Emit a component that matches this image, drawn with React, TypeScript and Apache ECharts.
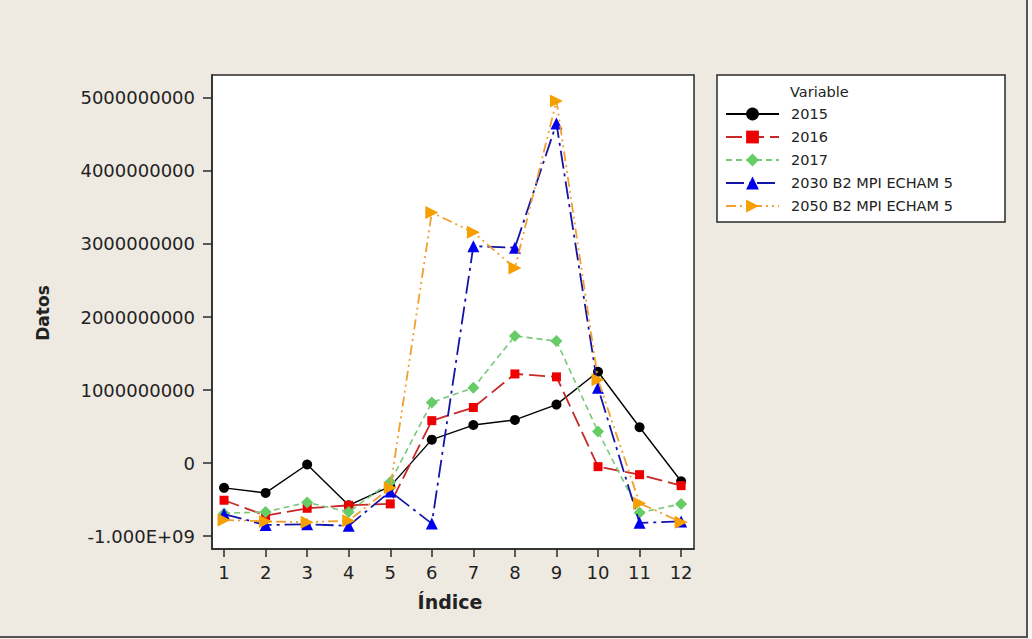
import React, { useEffect, useRef } from "react";
import * as echarts from "echarts";

const indices = [1, 2, 3, 4, 5, 6, 7, 8, 9, 10, 11, 12];
const seriesNames = ["2015", "2016", "2017", "2030 B2 MPI ECHAM 5", "2050 B2 MPI ECHAM 5"];
const s2015 = [-0.34e9, -0.41e9, -0.02e9, -0.58e9, -0.32e9, 0.32e9, 0.52e9, 0.59e9, 0.8e9, 1.25e9, 0.49e9, -0.25e9];
const s2016 = [-0.51e9, -0.72e9, -0.62e9, -0.58e9, -0.56e9, 0.58e9, 0.76e9, 1.22e9, 1.18e9, -0.05e9, -0.16e9, -0.31e9];
const s2017 = [-0.69e9, -0.67e9, -0.54e9, -0.67e9, -0.26e9, 0.83e9, 1.03e9, 1.74e9, 1.67e9, 0.43e9, -0.68e9, -0.56e9];
const s2030 = [-0.7e9, -0.85e9, -0.84e9, -0.86e9, -0.39e9, -0.83e9, 2.97e9, 2.95e9, 4.65e9, 1.03e9, -0.82e9, -0.8e9];
const s2050 = [-0.78e9, -0.8e9, -0.81e9, -0.79e9, -0.34e9, 3.43e9, 3.16e9, 2.67e9, 4.96e9, 1.14e9, -0.55e9, -0.81e9];
const yTicks = [-1e9, 0, 1e9, 2e9, 3e9, 4e9, 5e9];
const legendTitle = "Variable";
const xTitle = "Índice";
const yTitle = "Datos";

const FONT = '"DejaVu Sans", Verdana, sans-serif';

function pairs(vals: number[]) {
  return indices.map((x, i) => [x, vals[i]]);
}

export default function App() {
  const ref = useRef<HTMLDivElement>(null);
  useEffect(() => {
    document.body.style.margin = "0";
    const chart = echarts.init(ref.current!, null, { renderer: "svg" });
    const styles = [
      { symbol: "circle", symbolSize: 10, color: "#000000", line: "#000000", type: "solid", width: 1.4, rot: 0 },
      { symbol: "rect", symbolSize: 9, color: "#ee0000", line: "#c82828", type: [16, 6], width: 1.8, rot: 0 },
      { symbol: "diamond", symbolSize: 12, color: "#66cc66", line: "#77c877", type: [6, 4], width: 1.6, rot: 0 },
      { symbol: "triangle", symbolSize: 12, color: "#0000ee", line: "#1414a8", type: [18, 5, 3, 5], width: 1.8, rot: 0 },
      { symbol: "triangle", symbolSize: 13, color: "#f5a000", line: "#f0a030", type: [10, 4, 2, 4, 2, 4], width: 1.8, rot: -90 },
    ];
    const data = [s2015, s2016, s2017, s2030, s2050];
    chart.setOption({
      animation: false,
      backgroundColor: "#eeeae2",
      textStyle: { fontFamily: FONT },
      grid: {
        left: 212,
        top: 75,
        right: 338,
        bottom: 90,
        show: true,
        backgroundColor: "#ffffff",
        borderColor: "#2a2a2a",
        borderWidth: 1.5,
      },
      xAxis: {
        type: "value",
        min: 0.71,
        max: 12.31,
        splitLine: { show: false },
        axisLine: { show: true, onZero: false, lineStyle: { color: "#2a2a2a", width: 1.5 } },
        axisTick: { show: true, length: 8, customValues: indices, lineStyle: { color: "#2a2a2a", width: 1.5 } },
        axisLabel: { customValues: indices, fontSize: 18, color: "#222", margin: 14, fontFamily: FONT },
      },
      yAxis: {
        type: "value",
        min: -1.178e9,
        max: 5.315e9,
        splitLine: { show: false },
        axisLine: { show: true, onZero: false, lineStyle: { color: "#2a2a2a", width: 1.5 } },
        axisTick: { show: true, length: 9, customValues: yTicks, lineStyle: { color: "#2a2a2a", width: 1.5 } },
        axisLabel: {
          customValues: yTicks,
          fontSize: 18,
          color: "#222",
          margin: 17,
          fontFamily: FONT,
          formatter: (v: number) => (v === -1e9 ? "-1.000E+09" : String(Math.round(v))),
        },
      },
      legend: {
        show: true,
        orient: "vertical",
        left: 725,
        top: 106,
        padding: 0,
        itemWidth: 53,
        itemHeight: 16,
        itemGap: 7,
        align: "left",
        textStyle: { fontSize: 14.5, color: "#222", fontFamily: FONT, lineHeight: 16, padding: [0, 0, 0, 7] },
        data: seriesNames,
      },
      graphic: [
        {
          type: "rect",
          z: -1,
          shape: { x: 717, y: 75, width: 288, height: 147 },
          style: { fill: "#ffffff", stroke: "#2a2a2a", lineWidth: 1.5 },
        },
        {
          type: "text",
          x: 790,
          y: 92,
          style: { text: legendTitle, fontSize: 14.5, fill: "#222", fontFamily: FONT, verticalAlign: "middle" },
        },
        {
          type: "text",
          x: 450,
          y: 602,
          style: { text: xTitle, fontSize: 19, fontWeight: "bold", fill: "#222", fontFamily: FONT, align: "center", verticalAlign: "middle" },
        },
        {
          type: "text",
          x: 43,
          y: 313,
          rotation: Math.PI / 2,
          style: { text: yTitle, fontSize: 17, fontWeight: "bold", fill: "#222", fontFamily: FONT, align: "center", verticalAlign: "middle" },
        },
        {
          type: "line",
          shape: { x1: 1027, y1: 0, x2: 1027, y2: 637 },
          style: { stroke: "#555", lineWidth: 2 },
        },
        {
          type: "line",
          shape: { x1: 0, y1: 637, x2: 1028, y2: 637 },
          style: { stroke: "#555", lineWidth: 2 },
        },
        {
          type: "rect",
          shape: { x: 1028, y: 0, width: 4, height: 639 },
          style: { fill: "#f6f6f6" },
        },
      ],
      series: styles.map((s, i) => ({
        name: seriesNames[i],
        type: "line",
        data: pairs(data[i]),
        symbol: s.symbol,
        symbolSize: s.symbolSize,
        symbolRotate: s.rot,
        showSymbol: true,
        itemStyle: { color: s.color },
        lineStyle: { color: s.line, width: s.width, type: s.type },
        z: 2 + i,
      })),
    });
    return () => chart.dispose();
  }, []);
  return <div ref={ref} style={{ width: 1032, height: 639 }} />;
}
